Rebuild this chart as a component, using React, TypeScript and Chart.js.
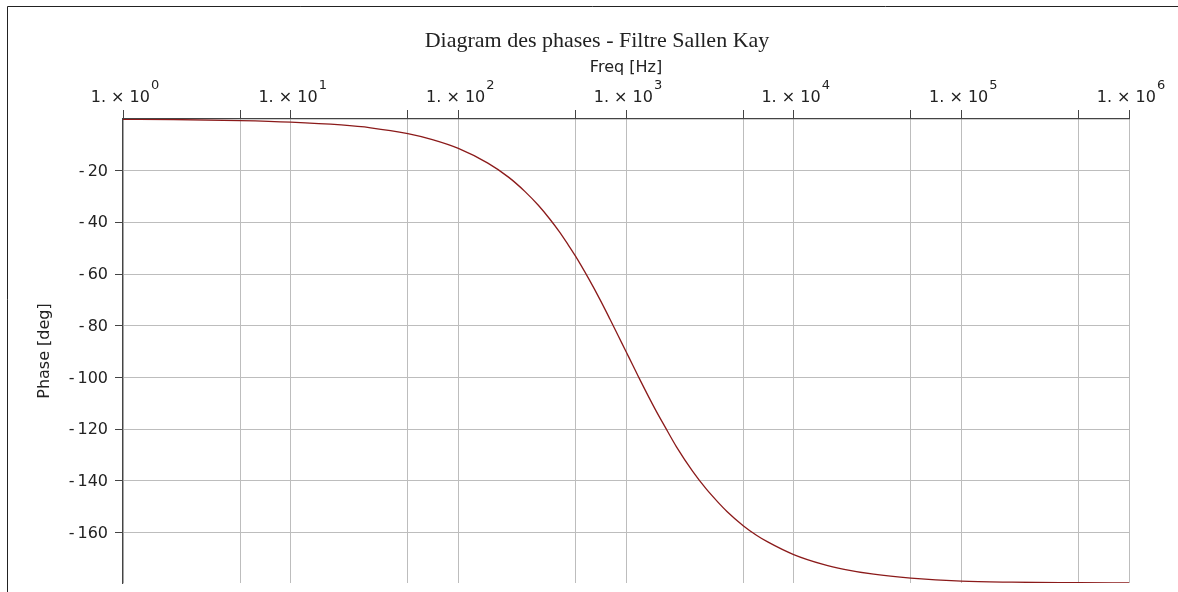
import React, { useEffect, useRef } from "react";
import { Chart, registerables } from "chart.js";

Chart.register(...registerables);

// Frequency samples (Hz) and phase readings (deg)
const FREQ = [
  1, 2, 5, 10, 20, 30, 50, 70, 100, 150, 200, 250, 300, 350, 400, 450, 500, 600,
  700, 800, 900, 1000, 1100, 1200, 1500, 1700, 2000, 2500, 3000, 3500, 4000,
  5000, 6000, 7000, 10000, 15000, 20000, 30000, 50000, 100000, 200000, 500000,
  1000000,
];
const PHASE = [
  -0.1, -0.2, -0.6, -1.2, -2.3, -3.4, -5.7, -8.0, -11.4, -17.1, -22.6, -28.1,
  -33.4, -38.6, -43.6, -48.5, -53.1, -61.9, -69.9, -77.3, -84.0, -90.0, -95.4,
  -100.4, -112.6, -118.9, -126.9, -136.4, -143.1, -148.0, -151.9, -157.4,
  -161.1, -163.7, -168.6, -172.4, -174.3, -176.2, -177.7, -178.9, -179.3,
  -179.5, -179.6,
];

const X_GRID = [1, 5, 10, 50, 100, 500, 1000, 5000, 10000, 50000, 100000, 500000, 1000000];
const X_LABEL_EXP = [0, 1, 2, 3, 4, 5, 6];
const Y_TICKS = [-20, -40, -60, -80, -100, -120, -140, -160];

const TITLE = "Diagram des phases - Filtre Sallen Kay";
const X_TITLE = "Freq [Hz]";
const Y_TITLE = "Phase [deg]";

const SANS = '"DejaVu Sans", sans-serif';
const SERIF = '"Liberation Serif", "Times New Roman", serif';
const TEXT = "#222";

const decorPlugin = {
  id: "decor",
  afterDraw(chart: any) {
    const ctx = chart.ctx as CanvasRenderingContext2D;
    const xs = chart.scales.x;
    const ys = chart.scales.y;
    const area = chart.chartArea;
    ctx.save();
    // outer frame (left and top visible)
    ctx.strokeStyle = "#222";
    ctx.lineWidth = 1;
    ctx.beginPath();
    ctx.moveTo(7.5, 592);
    ctx.lineTo(7.5, 6.5);
    ctx.lineTo(1178, 6.5);
    ctx.stroke();

    ctx.fillStyle = TEXT;
    // title
    ctx.font = `22px ${SERIF}`;
    ctx.textAlign = "center";
    ctx.textBaseline = "alphabetic";
    ctx.fillText(TITLE, 597, 47);

    // x axis title
    ctx.font = `16px ${SANS}`;
    ctx.fillText(X_TITLE, (area.left + area.right) / 2, 72);

    // x tick labels: 1. × 10^n
    X_LABEL_EXP.forEach((n) => {
      const px = xs.getPixelForValue(Math.pow(10, n));
      const main = "1. \u00d7 10";
      const sup = String(n);
      ctx.font = `16px ${SANS}`;
      const w1 = ctx.measureText(main).width;
      ctx.font = `13px ${SANS}`;
      const w2 = ctx.measureText(sup).width;
      const gap = 1;
      const total = w1 + gap + w2;
      const start = px - total / 2 + 2;
      ctx.textAlign = "left";
      ctx.font = `16px ${SANS}`;
      ctx.fillText(main, start, 102);
      ctx.font = `13px ${SANS}`;
      ctx.fillText(sup, start + w1 + gap, 89);
    });

    // y tick labels with short minus
    ctx.font = `16px ${SANS}`;
    ctx.textBaseline = "middle";
    Y_TICKS.forEach((v) => {
      const py = ys.getPixelForValue(v) + 1;
      const digits = String(Math.abs(v));
      ctx.textAlign = "right";
      ctx.fillText(digits, 108, py);
      const w = ctx.measureText(digits).width;
      ctx.fillText("-", 108 - w - 3, py);
    });

    // y axis title
    ctx.save();
    ctx.translate(45, (area.top + area.bottom) / 2);
    ctx.rotate(-Math.PI / 2);
    ctx.textAlign = "center";
    ctx.textBaseline = "middle";
    ctx.fillText(Y_TITLE, 0, 0);
    ctx.restore();

    ctx.restore();
  },
};

export default function App() {
  const ref = useRef<HTMLCanvasElement | null>(null);
  useEffect(() => {
    if (!ref.current) return;
    const points = FREQ.map((f, i) => ({ x: f, y: PHASE[i] }));
    const chart = new Chart(ref.current, {
      type: "line",
      data: {
        datasets: [
          {
            data: points,
            borderColor: "#8b1a1a",
            borderWidth: 1.3,
            pointRadius: 0,
            cubicInterpolationMode: "monotone",
            fill: false,
          },
        ],
      },
      options: {
        animation: false,
        responsive: false,
        devicePixelRatio: 1,
        layout: { padding: { top: 0, left: 0, right: 49, bottom: 9 } },
        plugins: {
          legend: { display: false },
          title: { display: false },
          tooltip: { enabled: false },
        },
        scales: {
          x: {
            type: "logarithmic",
            position: "top",
            min: 1,
            max: 1000000,
            afterBuildTicks: (s: any) => {
              s.ticks = X_GRID.map((v) => ({ value: v }));
            },
            afterFit: (s: any) => {
              s.height = 119;
            },
            ticks: { display: false },
            grid: {
              color: "#bdbdbd",
              lineWidth: 1,
              tickColor: "#444",
              tickLength: 9,
              drawTicks: true,
            },
            border: { display: true, color: "#444", width: 1.2 },
          },
          y: {
            type: "linear",
            min: -179.6,
            max: 0,
            afterBuildTicks: (s: any) => {
              s.ticks = Y_TICKS.map((v) => ({ value: v }));
            },
            afterFit: (s: any) => {
              s.width = 123;
            },
            ticks: { display: false },
            grid: {
              color: "#bdbdbd",
              lineWidth: 1,
              tickColor: "#444",
              tickLength: 8,
              drawTicks: true,
            },
            border: { display: true, color: "#444", width: 1.2 },
          },
        },
      },
      plugins: [decorPlugin],
    } as any);
    return () => chart.destroy();
  }, []);
  return (
    <canvas
      ref={ref}
      width={1178}
      height={592}
      style={{ position: "absolute", left: 0, top: 0, display: "block" }}
    />
  );
}
